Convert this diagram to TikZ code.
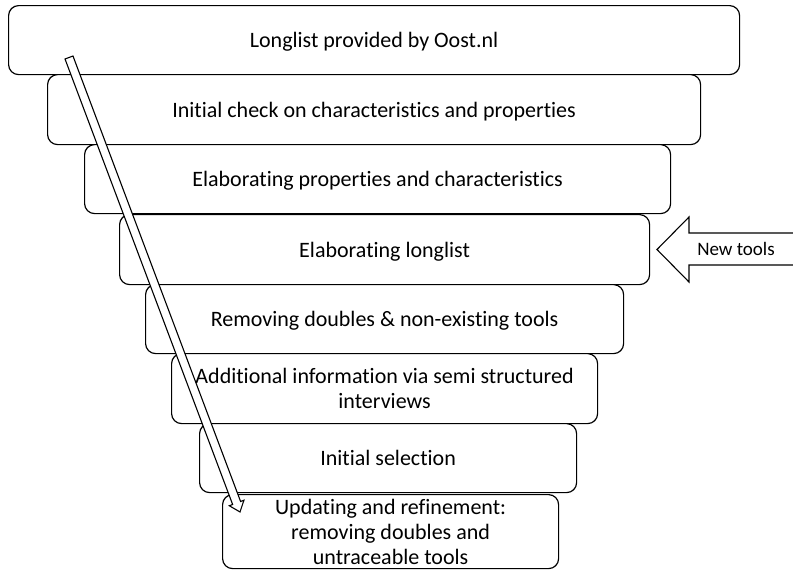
\documentclass[tikz,border=0pt]{standalone}
\usepackage{fontspec}
\setmainfont{Carlito}[Ligatures=NoCommon]
\usetikzlibrary{positioning}

\begin{document}
\begin{tikzpicture}[x=1pt,y=-1pt]
\tikzset{stage/.style={draw,fill=white,rounded corners=10pt,line width=1.2pt,align=center,inner sep=0pt,anchor=north west,font=\fontsize{22}{25}\selectfont}}
\tikzset{oneline/.style={stage,text depth=0pt}}
\tikzset{blockarrow/.style={draw,fill=white,line width=1.1pt,line join=miter}}
\clip (0,0) rectangle (793,571);
\fill[white] (0,0) rectangle (793,571);
% the funnel, top to bottom
\node[oneline,minimum width=731pt,minimum height=69pt] (s1) at (8,5) {Longlist provided by Oost.nl};
\node[oneline,minimum width=653pt,minimum height=70pt] (s2) at (47,74) {Initial check on characteristics and properties};
\node[oneline,minimum width=586pt,minimum height=69pt] (s3) at (84,144) {Elaborating properties and characteristics};
\node[oneline,minimum width=530pt,minimum height=70pt] (s4) at (119,214) {Elaborating longlist};
\node[oneline,minimum width=478pt,minimum height=69pt] (s5) at (145,284) {Removing doubles \& non-existing tools};
\node[stage,minimum width=426pt,minimum height=70pt] (s6) at (171,353) {Additional information via semi structured\\interviews};
\node[oneline,minimum width=377pt,minimum height=69pt] (s7) at (199,423) {Initial selection};
\node[stage,minimum width=336pt,minimum height=74pt] (s8) at (222,494) {Updating and refinement:\\removing doubles and\\untraceable tools};
% incoming arrow
\draw[blockarrow] (805,233) -- (689,233) -- (689,217) -- (657,249.5) -- (689,282) -- (689,265) -- (805,265) -- cycle;
\node[font=\fontsize{19}{22}\selectfont] (new) at (736,249) {New tools};
% long diagonal arrow
\begin{scope}[shift={(69,57.5)},rotate=-69.38]
\draw[blockarrow] (0,4.25) -- (476,4.25) -- (476,7.8) -- (485.6,0) -- (476,-7.8) -- (476,-4.25) -- (0,-4.25) -- cycle;
\end{scope}
\end{tikzpicture}
\end{document}
